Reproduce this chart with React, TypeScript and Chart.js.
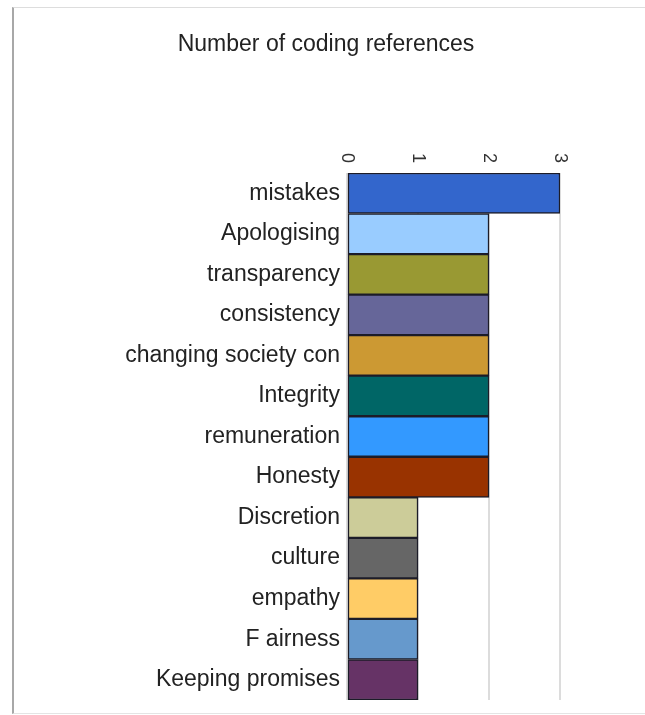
import React, { useEffect, useRef } from "react";
import { Chart, registerables } from "chart.js";

Chart.register(...registerables);

const categories = [
  "mistakes",
  "Apologising",
  "transparency",
  "consistency",
  "changing society con",
  "Integrity",
  "remuneration",
  "Honesty",
  "Discretion",
  "culture",
  "empathy",
  "F airness",
  "Keeping promises",
];

const values = [3, 2, 2, 2, 2, 2, 2, 2, 1, 1, 1, 1, 1];

const barColors = [
  "#3366CC",
  "#99CCFF",
  "#999933",
  "#666699",
  "#CC9933",
  "#006666",
  "#3399FF",
  "#993300",
  "#CCCC99",
  "#666666",
  "#FFCC66",
  "#6699CC",
  "#663366",
];

const xTicks = [0, 1, 2, 3];
const titleText = "Number of coding references";

const FONT = "'Liberation Sans', Arial, sans-serif";

const rotatedTicks = {
  id: "rotatedTicks",
  afterDraw(chart: any) {
    const scale = chart.scales.x;
    const ctx = chart.ctx;
    const top = chart.chartArea.top;
    ctx.save();
    ctx.fillStyle = "#333";
    ctx.font = `18px ${FONT}`;
    ctx.textAlign = "center";
    ctx.textBaseline = "middle";
    for (const t of xTicks) {
      const x = scale.getPixelForValue(t);
      ctx.save();
      ctx.translate(x, top - 15);
      ctx.rotate(Math.PI / 2);
      ctx.fillText(String(t), 0, 0);
      ctx.restore();
    }
    ctx.restore();
  },
};

export default function App() {
  const ref = useRef<HTMLCanvasElement>(null);

  useEffect(() => {
    if (!ref.current) return;
    const chart = new Chart(ref.current, {
      type: "bar",
      data: {
        labels: categories,
        datasets: [
          {
            data: values,
            backgroundColor: barColors,
            borderColor: "#1c1c28",
            borderWidth: 1.5,
            borderSkipped: false,
            barPercentage: 1,
            categoryPercentage: 1,
          },
        ],
      },
      options: {
        indexAxis: "y",
        animation: false,
        responsive: false,
        maintainAspectRatio: false,
        layout: { padding: { left: 92, right: 85, top: 0, bottom: 15 } },
        plugins: {
          legend: { display: false },
          tooltip: { enabled: false },
          title: {
            display: true,
            text: titleText,
            color: "#222",
            font: { family: FONT, size: 23, weight: "normal" },
            padding: { top: 31, bottom: 0 },
          },
        },
        scales: {
          x: {
            position: "top",
            min: 0,
            max: 3,
            ticks: { display: false, stepSize: 1 },
            grid: { color: "#dcdcdc", lineWidth: 2, drawTicks: false },
            border: { display: false },
            afterFit: (s: any) => {
              s.height = 173 - 31 - 27.6;
              s.paddingLeft = 0;
              s.paddingRight = 0;
            },
          },
          y: {
            ticks: {
              color: "#222",
              font: { family: FONT, size: 23 },
              padding: 7,
              autoSkip: false,
            },
            grid: { display: false, drawTicks: false },
            border: { display: false },
            afterFit: (s: any) => {
              s.width = 255;
              s.paddingTop = 0;
              s.paddingBottom = 0;
            },
          },
        },
      },
      plugins: [rotatedTicks],
    });
    return () => chart.destroy();
  }, []);

  return (
    <div style={{ position: "absolute", left: 0, top: 0, width: 645, height: 715, background: "#fff" }}>
      <div
        style={{
          position: "absolute",
          left: 12,
          top: 7,
          right: 0,
          height: 705,
          borderLeft: "2px solid #a8a8a8",
          borderTop: "1px solid #dddddd",
          borderBottom: "1px solid #e4e4e4",
        }}
      />
      <canvas ref={ref} width={645} height={715} style={{ position: "absolute", left: 0, top: 0 }} />
    </div>
  );
}
